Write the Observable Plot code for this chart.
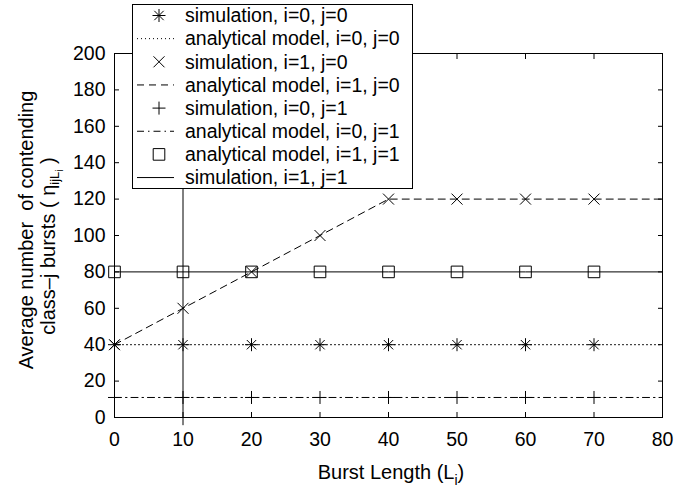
<!DOCTYPE html>
<html><head><meta charset="utf-8">
<script src="https://cdn.jsdelivr.net/npm/d3@7"></script>
<script src="https://cdn.jsdelivr.net/npm/@observablehq/plot@0.6"></script>
<style>body{margin:0;background:#fff;} svg{display:block;}</style>
</head><body><div id="chart"></div>
<script>
// ---- data ----
const burstLength = [0, 10, 20, 30, 40, 50, 60, 70];          // marker positions
const lineX = [0, 10, 20, 30, 40, 50, 60, 70, 80];            // analytical line positions
const sim00 = [40, 40, 40, 40, 40, 40, 40, 40];
const ana00 = [40, 40, 40, 40, 40, 40, 40, 40, 40];
const sim10 = [40, 60, 80, 100, 120, 120, 120, 120];
const ana10 = [40, 60, 80, 100, 120, 120, 120, 120, 120];
const sim01 = [11, 11, 11, 11, 11, 11, 11, 11];
const ana01 = [11, 11, 11, 11, 11, 11, 11, 11, 11];
const ana11 = [80, 80, 80, 80, 80, 80, 80, 80];
const sim11 = [80, 80, 80, 80, 80, 80, 80, 80, 80];
const sim11VertX = [10, 10];
const sim11VertY = [-4, 200];
const xTicks = [0, 10, 20, 30, 40, 50, 60, 70, 80];
const yTicks = [0, 20, 40, 60, 80, 100, 120, 140, 160, 180, 200];
const legendLabels = [
  "simulation, i=0, j=0",
  "analytical model, i=0, j=0",
  "simulation, i=1, j=0",
  "analytical model, i=1, j=0",
  "simulation, i=0, j=1",
  "analytical model, i=0, j=1",
  "analytical model, i=1, j=1",
  "simulation, i=1, j=1"
];
const legendKinds = ["asterisk", "dotted", "times", "dashed", "plus", "dashdot", "square", "solid"];

// ---- symbols ----
const sym = (fn) => ({draw(ctx, size) { fn(ctx, Math.sqrt(size / Math.PI)); }});
const drawAst = (c, r) => { const d = r * 0.72; c.moveTo(-r, 0); c.lineTo(r, 0); c.moveTo(0, -r); c.lineTo(0, r);
  c.moveTo(-d, -d); c.lineTo(d, d); c.moveTo(-d, d); c.lineTo(d, -d); };
const drawTimes = (c, r) => { c.moveTo(-r, -r); c.lineTo(r, r); c.moveTo(-r, r); c.lineTo(r, -r); };
const drawPlus = (c, r) => { c.moveTo(-r, 0); c.lineTo(r, 0); c.moveTo(0, -r); c.lineTo(0, r); };
const drawSquare = (c, r) => { c.moveTo(-r, -r); c.lineTo(r, -r); c.lineTo(r, r); c.lineTo(-r, r); c.closePath(); };
const symbols = {asterisk: sym(drawAst), times: sym(drawTimes), plus: sym(drawPlus), square: sym(drawSquare)};
const symR = {asterisk: 6.5, times: 5.5, plus: 6.5, square: 5.8};
const dashes = {dotted: "1 3", dashed: "7 5", dashdot: "7 4 1.5 4", solid: null};

const pts = (xs, ys) => xs.map((x, i) => ({x, y: ys[i]}));
const lineMark = (xs, ys, kind) => Plot.line(pts(xs, ys), {x: "x", y: "y", stroke: "black", strokeWidth: 1, strokeDasharray: dashes[kind]});
const dotMark = (xs, ys, kind) => Plot.dot(pts(xs, ys), {x: "x", y: "y", symbol: symbols[kind], r: symR[kind], stroke: "black", fill: "none", strokeWidth: 1});

const chart = Plot.plot({
  width: 695, height: 489,
  marginLeft: 114, marginRight: 33, marginTop: 53, marginBottom: 72,
  x: {domain: [0, 80]},
  y: {domain: [0, 200]},
  style: {fontFamily: "'Liberation Sans', Arial, sans-serif", fontSize: "19.5px", color: "black", background: "white"},
  marks: [
    lineMark(lineX, ana00, "dotted"),
    lineMark(lineX, ana10, "dashed"),
    lineMark(lineX, ana01, "dashdot"),
    lineMark(lineX, sim11, "solid"),
    lineMark(sim11VertX, sim11VertY, "solid"),
    dotMark(burstLength, sim00, "asterisk"),
    dotMark(burstLength, sim10, "times"),
    dotMark(burstLength, sim01, "plus"),
    dotMark(burstLength, ana11, "square"),
    Plot.frame({stroke: "black"}),
    Plot.axisX({anchor: "bottom", ticks: xTicks, tickSize: -5, tickPadding: 20, label: null}),
    Plot.axisX({anchor: "top", ticks: xTicks, tickSize: -5, tickFormat: () => "", label: null}),
    Plot.axisY({anchor: "left", ticks: yTicks, tickSize: -5, tickPadding: 14, label: null}),
    Plot.axisY({anchor: "right", ticks: yTicks, tickSize: -5, tickFormat: () => "", label: null})
  ]
});
document.getElementById("chart").appendChild(chart);

// ---- axis titles ----
const svg = d3.select(chart);
const font = "'Liberation Sans', Arial, sans-serif";
const xl = svg.append("text").attr("x", 391).attr("y", 479).attr("text-anchor", "middle")
  .attr("font-family", font).attr("font-size", 20).attr("fill", "black");
xl.append("tspan").text("Burst Length (L");
xl.append("tspan").attr("dy", 6).attr("font-size", 14).text("i");
xl.append("tspan").attr("dy", -6).text(")");

const yl = svg.append("g").attr("transform", "rotate(-90)")
  .attr("font-family", font).attr("font-size", 20).attr("fill", "black");
yl.append("text").attr("x", -230).attr("y", 33).attr("text-anchor", "middle")
  .attr("style", "white-space:pre").text("Average number  of contending");
const l2 = yl.append("text").attr("x", -246).attr("y", 55).attr("text-anchor", "middle")
  .attr("style", "white-space:pre");
l2.append("tspan").text("class\u2013j bursts ( \u03b7");
l2.append("tspan").attr("dy", 4).attr("font-size", 13).text("ijL");
l2.append("tspan").attr("dy", 4).attr("font-size", 10).text("i");
l2.append("tspan").attr("dy", -8).text(" )");

// ---- legend ----
const lg = svg.append("g");
lg.append("rect").attr("x", 132.5).attr("y", 4.5).attr("width", 280).attr("height", 184)
  .attr("fill", "white").attr("stroke", "black").attr("stroke-width", 1);
legendLabels.forEach((label, i) => {
  const cy = 15.5 + i * 23.15;
  const kind = legendKinds[i];
  if (symbols[kind]) {
    const p = d3.path();
    symbols[kind].draw(p, symR[kind] * symR[kind] * Math.PI);
    lg.append("path").attr("transform", `translate(159,${cy})`).attr("d", p.toString())
      .attr("fill", "none").attr("stroke", "black").attr("stroke-width", 1);
  } else {
    lg.append("line").attr("x1", 137).attr("x2", 174).attr("y1", cy).attr("y2", cy)
      .attr("stroke", "black").attr("stroke-width", 1).attr("stroke-dasharray", dashes[kind]);
  }
  lg.append("text").attr("x", 185).attr("y", cy).attr("dy", "0.35em").attr("text-anchor", "start")
    .attr("font-family", font).attr("font-size", 19.5).attr("fill", "black").text(label);
});
</script>
</body></html>
